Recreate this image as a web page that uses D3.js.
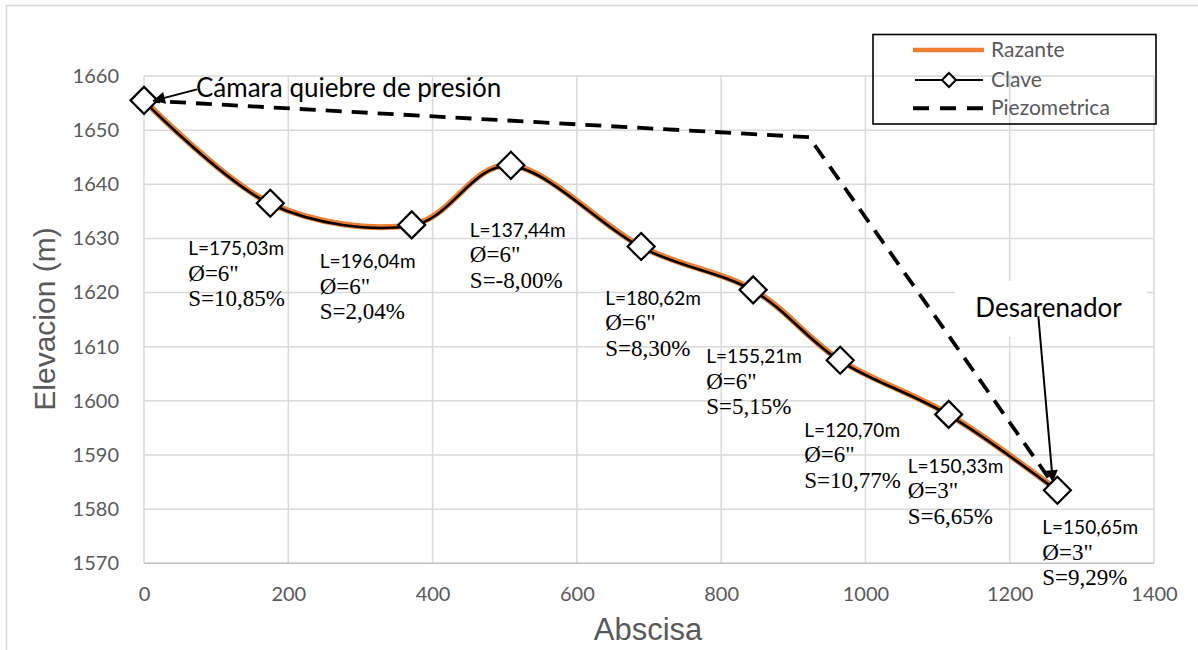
<!DOCTYPE html>
<html><head><meta charset="utf-8">
<script src="https://cdn.jsdelivr.net/npm/d3@7"></script>
<style>body{margin:0;background:#fff} svg{display:block}</style>
</head><body><svg id="c" width="1198" height="650"></svg>
<script>
// ---- data ----
const abscisa = [0, 175.03, 371.07, 508.51, 689.13, 844.34, 965.04, 1115.37, 1266.02];
const clave   = [1655.5, 1636.5, 1632.5, 1643.5, 1628.5, 1620.5, 1607.5, 1597.5, 1583.5];
const razante = [1655.5, 1636.5, 1632.5, 1643.5, 1628.5, 1620.5, 1607.5, 1597.5, 1583.5];
const piezoX  = [0, 922, 1266.02];
const piezoY  = [1655.5, 1648.7, 1583.5];
const tramoL  = ["L=175,03m","L=196,04m","L=137,44m","L=180,62m","L=155,21m","L=120,70m","L=150,33m","L=150,65m"];
const tramoD  = ['Ø=6"','Ø=6"','Ø=6"','Ø=6"','Ø=6"','Ø=6"','Ø=3"','Ø=3"'];
const tramoS  = ["S=10,85%","S=2,04%","S=-8,00%","S=8,30%","S=5,15%","S=10,77%","S=6,65%","S=9,29%"];
const xTicks  = [0, 200, 400, 600, 800, 1000, 1200, 1400];
const yTicks  = [1570, 1580, 1590, 1600, 1610, 1620, 1630, 1640, 1650, 1660];
const seriesNames = ["Razante", "Clave", "Piezometrica"];
const noteStart = "Cámara quiebre de presión";
const noteEnd   = "Desarenador";
const xTitle = "Abscisa", yTitle = "Elevacion (m)";

// ---- layout ----
const svg = d3.select("#c");
const x = d3.scaleLinear().domain([0, 1400]).range([144, 1154]);
const y = d3.scaleLinear().domain([1570, 1660]).range([563.3, 76]);
const GRID = "#d9d9d9", TXT = "#595959", ORANGE = "#ed7d31";
const SANS = "Lato, 'Open Sans', sans-serif";
const SERIF = "'Liberation Serif', 'DejaVu Serif', serif";

// chart border
svg.append("rect").attr("x", 6.5).attr("y", 5.5).attr("width", 1300).attr("height", 800)
  .attr("fill", "none").attr("stroke", GRID).attr("stroke-width", 1.5);

// gridlines
const g = svg.append("g");
g.selectAll("line.h").data(yTicks.slice(1)).join("line")
  .attr("x1", x(0)).attr("x2", x(1400)).attr("y1", d => y(d)).attr("y2", d => y(d))
  .attr("stroke", GRID).attr("stroke-width", 1.5);
g.selectAll("line.v").data(xTicks).join("line")
  .attr("x1", d => x(d)).attr("x2", d => x(d)).attr("y1", y(1660)).attr("y2", y(1570))
  .attr("stroke", GRID).attr("stroke-width", 1.5);
g.append("line").attr("x1", x(0)).attr("x2", x(1400)).attr("y1", y(1570)).attr("y2", y(1570))
  .attr("stroke", "#bfbfbf").attr("stroke-width", 1.5);

// axes (tick labels via d3 axes, domain & ticks hidden)
const xa = svg.append("g").attr("transform", `translate(0,${y(1570)})`)
  .call(d3.axisBottom(x).tickValues(xTicks).tickSize(0).tickPadding(24).tickFormat(d3.format("d")));
const ya = svg.append("g").attr("transform", `translate(${x(0)},0)`)
  .call(d3.axisLeft(y).tickValues(yTicks).tickSize(0).tickPadding(25).tickFormat(d3.format("d")));
[xa, ya].forEach(a => {
  a.select(".domain").remove();
  a.selectAll("text").attr("fill", TXT).style("font-family", SANS).style("font-size", "20px");
});

// axis titles
svg.append("text").attr("x", 648).attr("y", 640).attr("text-anchor", "middle")
  .attr("fill", TXT).style("font-family", "'Liberation Sans', Arial, sans-serif").style("font-size", "31px")
  .text(xTitle);
svg.append("text").attr("transform", "translate(55,319) rotate(-90)").attr("text-anchor", "middle")
  .attr("fill", TXT).style("font-family", "'Liberation Sans', Arial, sans-serif").style("font-size", "30px")
  .text(yTitle);

// series
const pts = abscisa.map((a, i) => [a, clave[i]]);
const rz = abscisa.map((a, i) => [a, razante[i]]);
const pz = piezoX.map((a, i) => [a, piezoY[i]]);
const smooth = d3.line().x(d => x(d[0])).y(d => y(d[1])).curve(d3.curveCardinal.tension(0));
const straight = d3.line().x(d => x(d[0])).y(d => y(d[1]));

svg.append("path").attr("d", straight(pz)).attr("fill", "none").attr("stroke", "#000")
  .attr("stroke-width", 3.8).attr("stroke-dasharray", "16,10");
svg.append("path").attr("d", smooth(rz)).attr("fill", "none").attr("stroke", ORANGE).attr("stroke-width", 6);
svg.append("path").attr("d", smooth(pts)).attr("fill", "none").attr("stroke", "#000").attr("stroke-width", 2.6)
  .attr("transform", "translate(0,0.8)");

const diamond = r => `M0,${-r}L${r},0L0,${r}L${-r},0Z`;
svg.selectAll("path.mk").data(pts).join("path").attr("class", "mk")
  .attr("transform", d => `translate(${x(d[0])},${y(d[1])})`)
  .attr("d", diamond(13.5)).attr("fill", "#fff").attr("stroke", "#000").attr("stroke-width", 2.2);

// segment labels (offsets in px from the segment's end marker)
const off = [[-82,52],[-92,43.5],[-41,71.5],[-36,58],[-47,73.5],[-36,76.5],[-41,58.5],[-15,44]];
const lbl = svg.append("g");
tramoL.forEach((t, i) => {
  const px = x(abscisa[i + 1]) + off[i][0], py = y(clave[i + 1]) + off[i][1];
  lbl.append("text").attr("x", px).attr("y", py).attr("fill", "#000")
    .style("font-family", SANS).style("font-size", "19px").text(t);
  lbl.append("text").attr("x", px).attr("y", py + 25.5).attr("fill", "#000")
    .style("font-family", SERIF).style("font-size", "23px").text(tramoD[i]);
  lbl.append("text").attr("x", px).attr("y", py + 51).attr("fill", "#000")
    .style("font-family", SERIF).style("font-size", "23px").text(tramoS[i]);
});

// arrow marker
const defs = svg.append("defs");
defs.append("marker").attr("id", "ah").attr("viewBox", "0 0 10 10").attr("refX", 10).attr("refY", 5)
  .attr("markerWidth", 7.5).attr("markerHeight", 6).attr("markerUnits", "strokeWidth").attr("orient", "auto")
  .append("path").attr("d", "M0,0L10,5L0,10Z").attr("fill", "#000");

// start note
const p0 = [x(abscisa[0]), y(clave[0])];
svg.append("text").attr("x", p0[0] + 52).attr("y", p0[1] - 3.5).attr("fill", "#000")
  .style("font-family", SANS).style("font-size", "26px").text(noteStart);
svg.append("line").attr("x1", p0[0] + 53).attr("y1", p0[1] - 11).attr("x2", p0[0] + 9).attr("y2", p0[1] + 0.5)
  .attr("stroke", "#000").attr("stroke-width", 2).attr("marker-end", "url(#ah)");

// end note
const pn = [x(abscisa[abscisa.length - 1]), y(clave[clave.length - 1])];
svg.append("rect").attr("x", 955).attr("y", 281).attr("width", 192).attr("height", 56).attr("fill", "#fff");
svg.append("text").attr("x", pn[0] - 82).attr("y", pn[1] - 173).attr("fill", "#000")
  .style("font-family", SANS).style("font-size", "26px").text(noteEnd);
svg.append("line").attr("x1", pn[0] - 19).attr("y1", pn[1] - 174).attr("x2", pn[0] - 4.5).attr("y2", pn[1] - 8)
  .attr("stroke", "#000").attr("stroke-width", 2).attr("marker-end", "url(#ah)");

// legend
const lg = svg.append("g");
lg.append("rect").attr("x", 873).attr("y", 34.5).attr("width", 283).attr("height", 89.5)
  .attr("fill", "none").attr("stroke", "#000").attr("stroke-width", 1.6);
const rows = [50, 80, 108.3];
lg.append("line").attr("x1", 913).attr("x2", 984).attr("y1", rows[0]).attr("y2", rows[0])
  .attr("stroke", ORANGE).attr("stroke-width", 4.5);
lg.append("line").attr("x1", 915).attr("x2", 983).attr("y1", rows[1]).attr("y2", rows[1])
  .attr("stroke", "#000").attr("stroke-width", 2);
lg.append("path").attr("transform", `translate(949,${rows[1]})`).attr("d", diamond(7))
  .attr("fill", "#fff").attr("stroke", "#000").attr("stroke-width", 2);
lg.append("line").attr("x1", 913).attr("x2", 984).attr("y1", rows[2]).attr("y2", rows[2])
  .attr("stroke", "#000").attr("stroke-width", 4).attr("stroke-dasharray", "16,11");
seriesNames.forEach((s, i) => {
  lg.append("text").attr("x", 991).attr("y", rows[i] + 7).attr("fill", TXT)
    .style("font-family", SANS).style("font-size", "21px").text(s);
});
</script></body></html>
